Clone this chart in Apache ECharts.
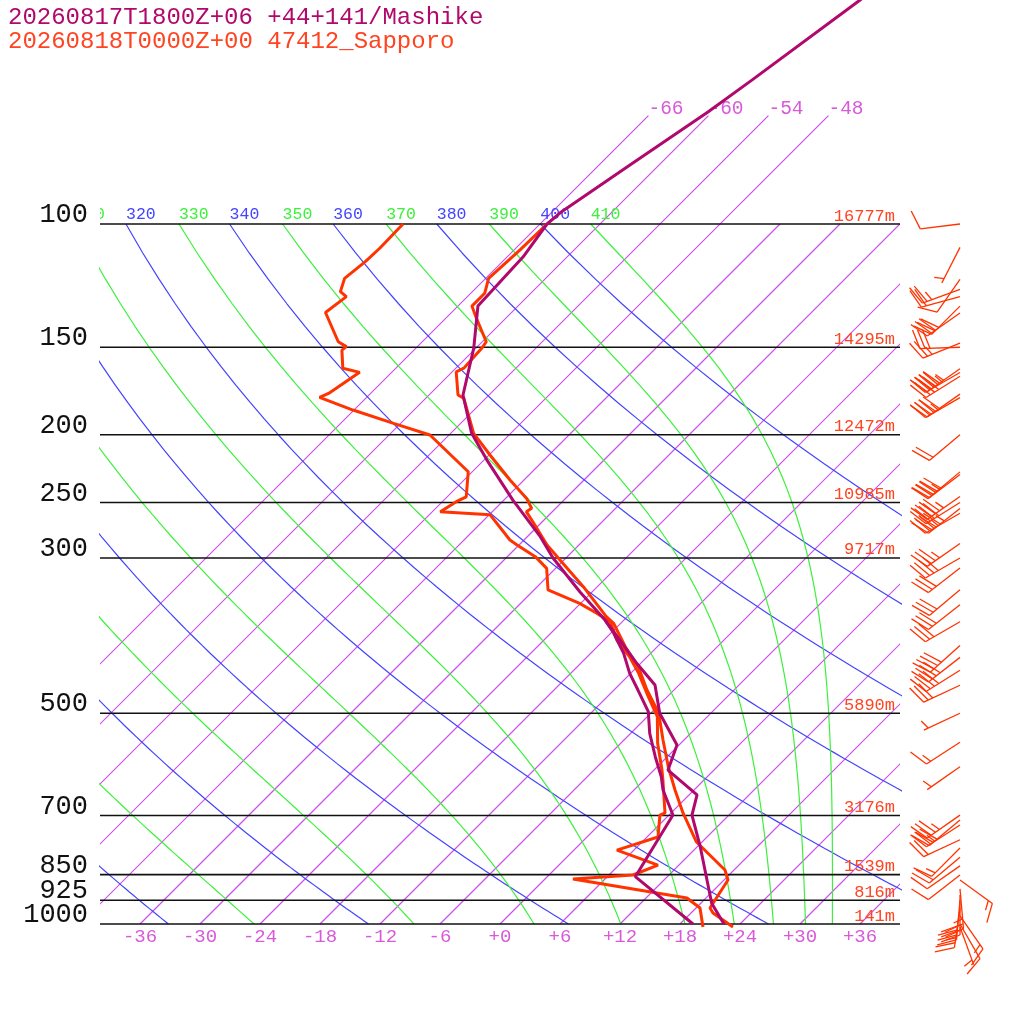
<!DOCTYPE html>
<html lang="en">
<head>
<meta charset="UTF-8">
<title>Skew-T</title>
<script src="https://cdn.jsdelivr.net/npm/echarts@6/dist/echarts.min.js"></script>
<style>
  html, body {margin:0; padding:0; background:#fff;}
  #box {width:1024px; height:1024px;}
</style>
</head>
<body>
<div id="box"></div>
<script>
// pressure levels drawn as isobars, with the heights written on the right
const isobars = [100, 150, 200, 250, 300, 500, 700, 850, 925, 1000];
const heights = ['16777m', '14295m', '12472m', '10985m', '9717m', '5890m', '3176m', '1539m', '816m', '141m'];
// isotherms (degC), the ones that go above 100 hPa, and the bottom tick labels
const isotherms = [-66, -60, -54, -48, -42, -36, -30, -24, -18, -12, -6, 0, 6, 12, 18, 24, 30, 36];
const isothermsHigh = [-66, -60, -54, -48];
const xTicks = [-36, -30, -24, -18, -12, -6, 0, 6, 12, 18, 24, 30, 36];
// dry adiabats (theta, K) and moist adiabats (theta-e, K)
const thetaLines = [240, 260, 280, 300, 320, 340, 360, 380, 400];
const thetaELines = [250, 270, 290, 310, 330, 350, 370, 390, 410];

// Mashike, temperature and dew point
const mashP = [44, 47.9, 62.3, 69.2, 82.9, 96.4, 100, 111.4, 131, 150.5, 175.5, 199.1, 217.4, 248, 279.7, 300, 335.5, 367.9, 393, 424.2, 455.6, 500, 555, 602.6, 654.1, 698.8, 775.6, 934.2, 1000];
const mashT = [-55.6, -56.4, -59.2, -60.4, -63.0, -65.1, -65.3, -64.4, -64.0, -60.2, -56.6, -51.9, -47.7, -41.1, -34.7, -31.3, -25.2, -19.9, -16.4, -12.4, -8.4, -5.1, -0.2, 1.4, 6.8, 8.3, 12.3, 19.1, 22.4];
const mashTdP = [367.9, 384.3, 410.5, 438.4, 463.2, 497.4, 534, 576.8, 616, 643.5, 698.8, 855.9, 1000];
const mashTd = [-19.9, -17.7, -14.7, -12.1, -9.6, -6.4, -4.1, -1.2, 1.4, 2.9, 6.4, 8.8, 19.3];

// Sapporo, temperature and dew point
const sapP = [100, 108.9, 119.6, 125.6, 131, 137.1, 147.3, 150.5, 160.7, 162.6, 175.5, 177.4, 199.1, 213.8, 232.1, 246.6, 254.8, 257.6, 267.6, 287.4, 302, 329.7, 363.9, 371.9, 401.7, 429, 463.2, 500, 545.9, 596.1, 643.5, 694.1, 762.9, 837.3, 865.3, 948.7, 964.4, 1010];
const sapT = [-65.3, -65.4, -65.7, -64.6, -64.6, -62.7, -59.6, -59.4, -59.2, -59.6, -57.1, -56.2, -51.7, -47.9, -43.4, -39.9, -38.4, -38.6, -36.7, -33.2, -30.4, -25.4, -20.1, -18.7, -15.2, -11.9, -8.7, -5.2, -2.1, 1.1, 4.1, 7.2, 11.4, 17.1, 18.4, 19.4, 20.2, 23.6];
const sapTdP = [100, 108.3, 113.2, 119.6, 124.9, 127, 133.8, 147.3, 149.7, 151.4, 160.7, 162.9, 174.6, 176.9, 184.4, 192.7, 200.2, 225.9, 245.3, 249.3, 257.6, 260.3, 282.8, 287.4, 298.7, 310.4, 333.3, 348.3, 359.8, 370, 393, 415, 438.4, 473.5, 505.6, 552, 602.6, 622.9, 694.1, 698.8, 751.2, 784.2, 823.8, 851.1, 862.5, 918.2, 948.7, 1010];
const sapTd = [-79.7, -79.6, -79.7, -80.1, -79.2, -78.1, -78.6, -74.4, -73.1, -73.2, -71.3, -69.2, -70.2, -70.7, -66.1, -60.7, -55.9, -48.4, -46.1, -46.6, -47.2, -41.9, -37.4, -36.2, -33.2, -30.9, -28.6, -24.1, -21.4, -19.2, -16.7, -13.8, -11.2, -7.9, -5.0, -2.3, 0.8, 1.9, 5.4, 5.1, 7.1, 4.3, 9.9, 8.4, 2.8, 16.1, 18.4, 20.6];

// Sapporo winds (direction deg, speed kt)
const windP = [100, 108, 120, 124, 127, 131, 134, 148, 150, 161, 163, 165, 175, 177, 200, 226, 228, 245, 250, 255, 259, 286, 300, 310, 333, 350, 370, 400, 416, 434, 456, 500, 550, 596, 699, 710, 722, 758, 779, 803, 826, 851, 865, 891, 909, 924, 949, 974, 1000, 1010];
const windDir = [263, 207, 215, 250, 255, 225, 235, 248, 268, 235, 240, 238, 235, 240, 230, 230, 233, 235, 238, 232, 240, 235, 240, 232, 230, 232, 240, 228, 232, 238, 245, 245, 237, 235, 235, 230, 237, 245, 225, 230, 235, 232, 126, 175, 180, 185, 188, 145, 150, 160];
const windKt = [10, 5, 10, 25, 20, 30, 30, 25, 30, 45, 45, 40, 40, 35, 20, 40, 35, 45, 40, 45, 35, 35, 40, 30, 30, 30, 30, 40, 40, 40, 30, 5, 15, 5, 35, 30, 25, 20, 15, 20, 10, 10, 15, 25, 30, 30, 25, 15, 10, 5];

const SKEW = 70;                       // degC shift per decade of pressure
const P_TOP = 1000 * Math.pow(10, -924 / 700);
const P_BOT = 1015;
const FONT = '"Liberation Mono", monospace';
const C_ISO = '#cc50ea', C_ISO_TXT = '#d85ad8';
const C_DRY = '#4444ff', C_MOIST = '#3cf03c';
const C_MASH = '#b0086c', C_SAP = '#ff3300', C_SAP_TXT = '#ff4422';

const skew = (t, p) => t + SKEW * Math.log10(1000 / p);

// pressure steps for the adiabats
const adiabatP = [];
for (let p = 1000; p >= 100; p -= 10) adiabatP.push(p);

function satThetaE(tc, p) {
    const es = 6.112 * Math.exp(17.67 * tc / (tc + 243.5));
    if (es > p * 0.5) return Infinity;
    const r = 0.622 * es / (p - es);
    const tk = tc + 273.15;
    return tk * Math.pow(1000 / p, 0.2854 * (1 - 0.28 * r)) *
        Math.exp((3.376 / tk - 0.00254) * r * 1000 * (1 + 0.81 * r));
}
function moistT(te, p) {
    let lo = -160, hi = 60;
    for (let k = 0; k < 50; k++) {
        const m = (lo + hi) / 2;
        if (satThetaE(m, p) < te) lo = m; else hi = m;
    }
    return (lo + hi) / 2;
}

function line(data, color, width, z) {
    return {
        type: 'line', data: data, symbol: 'none', silent: true, animation: false,
        clip: true, z: z, color: color,
        lineStyle: {color: color, width: width}
    };
}
function profile(ps, ts) {
    return ps.map((p, i) => [skew(ts[i], p), p]);
}

// text items, placed through the axes
function textSeries(items, clip) {
    return {
        type: 'custom', silent: true, animation: false, clip: clip, z: 4,
        data: items.map(it => [it.x, it.p]),
        renderItem(params, api) {
            const it = items[params.dataIndex];
            const c = api.coord([it.x, it.p]);
            return {
                type: 'text', x: c[0] + (it.dx || 0), y: c[1] + (it.dy || 0),
                style: {
                    text: it.text, fill: it.color, font: it.size + 'px ' + FONT,
                    align: it.align, textAlign: it.align,
                    verticalAlign: 'middle', textVerticalAlign: 'middle'
                }
            };
        }
    };
}

let series = [];

// isotherms as straight segments through the axes
series.push({
    type: 'custom', silent: true, animation: false, clip: true, z: 1,
    data: isotherms.map(t => [t, 1000]),
    renderItem(params, api) {
        const t = isotherms[params.dataIndex];
        const top = isothermsHigh.includes(t) ? 70 : 100;
        const a = api.coord([skew(t, 1000), 1000]);
        const b = api.coord([skew(t, top), top]);
        return {type: 'line', shape: {x1: a[0], y1: a[1], x2: b[0], y2: b[1]},
            style: {stroke: C_ISO, lineWidth: 1.2, fill: null}};
    }
});
thetaLines.forEach(th => {
    series.push(line(adiabatP.map(p => [skew(th * Math.pow(p / 1000, 0.2857) - 273.15, p), p]), C_DRY, 1.2, 2));
});
thetaELines.forEach(te => {
    series.push(line(adiabatP.map(p => [skew(moistT(te, p), p), p]), C_MOIST, 1.2, 2));
});
isobars.forEach(p => {
    series.push(line([[-40, p], [40, p]], '#111', 1.6, 3));
});

series.push(line(profile(sapTdP, sapTd), C_SAP, 3, 5));
series.push(line(profile(sapP, sapT), C_SAP, 3, 5));
series.push(line(profile(mashTdP, mashTd), C_MASH, 3, 6));
series.push(line(profile(mashP, mashT), C_MASH, 3, 6));

// labels
let freeText = [];
isobars.forEach((p, i) => {
    freeText.push({x: -40, p: p, dx: -12, dy: -9, text: String(p), color: '#111', size: 27, align: 'right'});
    freeText.push({x: 40, p: p, dx: -5, dy: -8, text: heights[i], color: C_SAP_TXT, size: 17, align: 'right'});
});
isothermsHigh.forEach(t => {
    freeText.push({x: skew(t, 70), p: 70, dx: 0, dy: -6.5, text: String(t), color: C_ISO_TXT, size: 19.5, align: 'left'});
});
xTicks.forEach(t => {
    freeText.push({x: t, p: 1000, dx: 0, dy: 13, text: (t >= 0 ? '+' : '') + t, color: C_ISO_TXT, size: 19, align: 'center'});
});
series.push(textSeries(freeText, false));

let adiabatText = [];
thetaLines.forEach(th => {
    adiabatText.push({x: skew(th * Math.pow(0.1, 0.2857) - 273.15, 100), p: 100, dy: -9.5, text: String(th), color: C_DRY, size: 16.5, align: 'left'});
});
thetaELines.forEach(te => {
    adiabatText.push({x: skew(moistT(te, 100), 100), p: 100, dy: -9.5, text: String(te), color: C_MOIST, size: 16.5, align: 'left'});
});
series.push(textSeries(adiabatText, true));

// wind barbs to the right of the diagram
series.push({
    type: 'custom', silent: true, animation: false, clip: false, z: 5,
    data: windP.map(p => [0, p]),
    renderItem(params, api) {
        const i = params.dataIndex;
        const oy = api.coord([0, windP[i]])[1];
        const ox = 960, L = 40;
        const d = windDir[i] * Math.PI / 180;
        const ux = Math.sin(d), uy = -Math.cos(d);
        const tx = ox + ux * L, ty = oy + uy * L;
        const a = Math.atan2(uy, ux) + 70 * Math.PI / 180;
        const bx = Math.cos(a), by = Math.sin(a);
        const st = {stroke: C_SAP, lineWidth: 1.3};
        const kids = [{type: 'line', shape: {x1: ox, y1: oy, x2: tx, y2: ty}, style: st}];
        let spd = Math.round(windKt[i] / 5) * 5;
        let pos = 0;
        const barb = (len) => {
            const x0 = tx - ux * pos, y0 = ty - uy * pos;
            kids.push({type: 'line', shape: {x1: x0, y1: y0, x2: x0 + bx * len, y2: y0 + by * len}, style: st});
        };
        while (spd >= 50) {
            const x0 = tx - ux * pos, y0 = ty - uy * pos;
            kids.push({type: 'polygon', shape: {points: [[x0, y0], [x0 + bx * 20, y0 + by * 20], [x0 - ux * 7, y0 - uy * 7]]}, style: {fill: C_SAP}});
            spd -= 50; pos += 9;
        }
        while (spd >= 10) { barb(20); spd -= 10; pos += 5; }
        if (spd >= 5) { if (pos === 0) pos = 5; barb(10); }
        return {type: 'group', children: kids};
    }
});

let chart = echarts.init(document.getElementById('box'));
chart.setOption({
    animation: false,
    backgroundColor: '#fff',
    graphic: [
        {type: 'text', x: 8, y: 17.5, style: {text: '20260817T1800Z+06 +44+141/Mashike', fill: C_MASH, font: '24px ' + FONT, verticalAlign: 'middle'}},
        {type: 'text', x: 8, y: 41.5, style: {text: '20260818T0000Z+00 47412_Sapporo', fill: C_SAP_TXT, font: '24px ' + FONT, verticalAlign: 'middle'}}
    ],
    grid: {left: 100, right: 124, top: 0, bottom: 1024 - 924 - 700 * Math.log10(P_BOT / 1000)},
    xAxis: {
        type: 'value', min: -40, max: 40,
        axisLine: {show: false}, axisTick: {show: false}, axisLabel: {show: false}, splitLine: {show: false}
    },
    yAxis: {
        type: 'log', logBase: 10, inverse: true, min: P_TOP, max: P_BOT,
        axisLine: {show: false}, axisTick: {show: false}, axisLabel: {show: false}, splitLine: {show: false}
    },
    series: series
});
</script>
</body>
</html>
